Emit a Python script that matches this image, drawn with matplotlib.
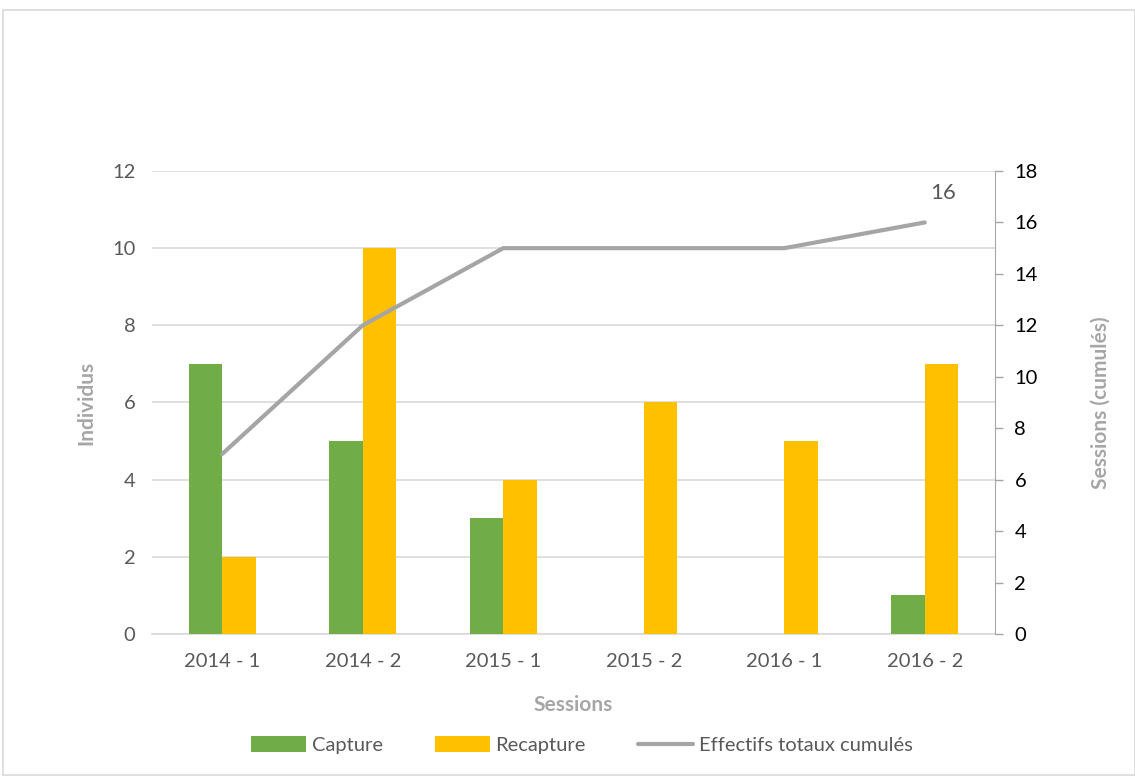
import matplotlib.pyplot as plt
from matplotlib.patches import Rectangle
import numpy as np

plt.rcParams['font.family'] = ['Lato', 'DejaVu Sans']

sessions = ["2014 - 1", "2014 - 2", "2015 - 1", "2015 - 2", "2016 - 1", "2016 - 2"]
capture = [7, 5, 3, 0, 0, 1]
recapture = [2, 10, 4, 6, 5, 7]
cumulated = [7, 12, 15, 15, 15, 16]

green = '#70AD47'
yellow = '#FFC000'
line_grey = '#A5A5A5'
text_grey = '#595959'
label_grey = '#A6A6A6'

fig = plt.figure(figsize=(11.35, 7.78), dpi=100)
fig.patches.append(Rectangle((3 / 1135, 3 / 778), 1 - 3 / 1135, 1 - 13 / 778,
                             transform=fig.transFigure, fill=False,
                             edgecolor='#D9D9D9', linewidth=1.2))
ax = fig.add_axes([152 / 1135, 1 - 634 / 778, 843 / 1135, 463 / 778])

x = np.arange(len(sessions))
w = 0.24
ax.bar(x - w / 2, capture, w, color=green, label="Capture", zorder=3)
ax.bar(x + w / 2, recapture, w, color=yellow, label="Recapture", zorder=3)

ax.set_xlim(-0.5, len(sessions) - 0.5)
ax.set_ylim(0, 12)
ax.set_yticks(range(0, 13, 2))
ax.set_xticks(x)
ax.set_xticklabels(sessions)
ax.grid(axis='y', color='#D9D9D9', linewidth=1.2, zorder=0)
for s in ['top', 'left', 'right']:
    ax.spines[s].set_visible(False)
ax.spines['bottom'].set_color('#D9D9D9')
ax.spines['bottom'].set_linewidth(1.2)
ax.tick_params(axis='both', length=0, labelsize=14.5, colors=text_grey, pad=12)
ax.tick_params(axis='x', pad=14)
ax.set_ylabel("Individus", fontsize=15, fontweight='bold', color=label_grey, labelpad=11)
ax.set_xlabel("Sessions", fontsize=15, fontweight='bold', color=label_grey, labelpad=18)

ax2 = ax.twinx()
ax2.plot(x, cumulated, color=line_grey, linewidth=3, label="Effectifs totaux cumulés",
         solid_capstyle='round', zorder=4)
ax2.set_ylim(0, 18)
ax2.set_yticks(range(0, 19, 2))
for s in ['top', 'left', 'bottom']:
    ax2.spines[s].set_visible(False)
ax2.spines['right'].set_color('#A6A6A6')
ax2.tick_params(axis='y', length=6, width=1, color='#A6A6A6', labelsize=14.5,
                labelcolor='black', pad=8)
ax2.set_ylabel("Sessions (cumulés)", fontsize=15, fontweight='bold', color=label_grey,
               labelpad=38)
ax2.annotate(str(cumulated[-1]), (x[-1], cumulated[-1]), xytext=(13, 14),
             textcoords='offset points', ha='center', va='bottom', fontsize=16,
             color=text_grey)

h1, l1 = ax.get_legend_handles_labels()
h2, l2 = ax2.get_legend_handles_labels()
fig.legend(h1 + h2, l1 + l2, loc='center', bbox_to_anchor=(582 / 1135, 1 - 745 / 778),
           ncol=3, frameon=False, fontsize=14.5, labelcolor=text_grey,
           handlelength=2.7, handleheight=0.8, columnspacing=2.6, handletextpad=0.3)

fig.savefig("out.png", dpi=100)
